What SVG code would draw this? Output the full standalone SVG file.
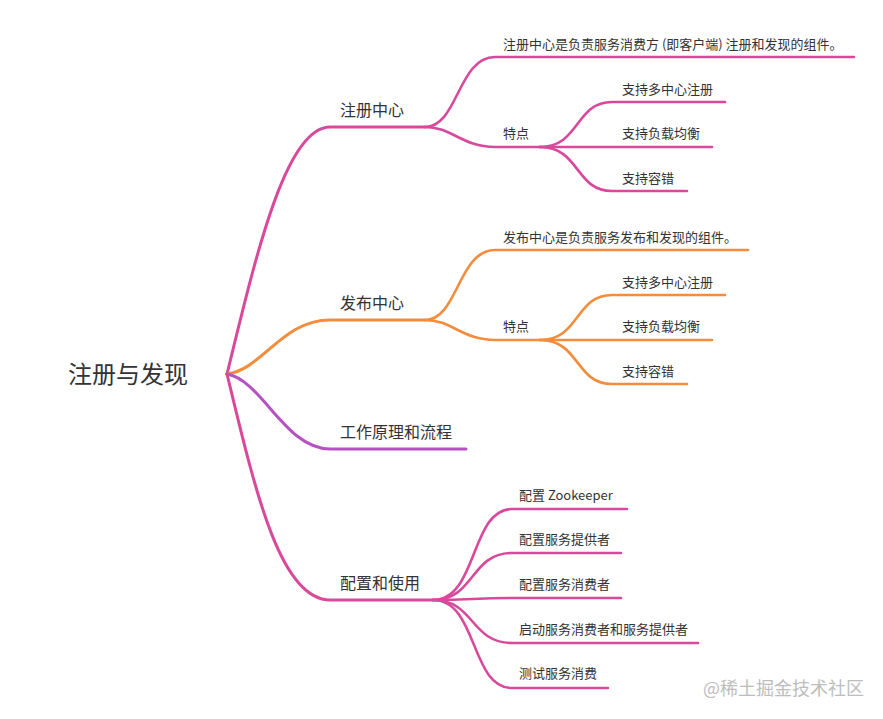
<svg xmlns="http://www.w3.org/2000/svg" width="883" height="719" viewBox="0 0 883 719">
<style>
text{font-family:"Noto Sans CJK SC","Microsoft YaHei",sans-serif;fill:#333}
.root{font-size:24px}
.l1{font-size:16px}
.l2{font-size:13px}
.wm{font-size:18px;fill:#bdbdbd}
path{fill:none;stroke-linecap:round}
.pk{stroke:#d9499b}
.or{stroke:#f38c3b}
.pu{stroke:#b552c1}
.w3{stroke-width:3}
.w2{stroke-width:2.6}
</style>
<rect width="883" height="719" fill="#fff"/>
<g id="connectors">
  <path class="pk w3" d="M227,374 C255,260 285,127 330,127 L425,127"/>
  <path class="or w3" d="M227,374 C262,370 282,320 330,320 L425,320"/>
  <path class="pu w3" d="M227,374 C262,380 285,449 330,449 L466,449"/>
  <path class="pk w3" d="M227,374 C255,490 280,600 330,600 L433,600"/>

  <path class="pk w2" d="M425,127 C458,127 458,57 495,57 L854,57"/>
  <path class="pk w2" d="M425,127 C452,127 462,147 495,147 L540,147"/>
  <path class="pk w2" d="M540,147 C580,147 575,102 612,102 L725,102"/>
  <path class="pk w2" d="M540,147 L712,147"/>
  <path class="pk w2" d="M540,147 C580,147 575,191 612,191 L687,191"/>

  <path class="or w2" d="M425,320 C458,320 458,250 495,250 L748,250"/>
  <path class="or w2" d="M425,320 C452,320 462,340 495,340 L540,340"/>
  <path class="or w2" d="M540,340 C580,340 575,295 612,295 L725,295"/>
  <path class="or w2" d="M540,340 L712,340"/>
  <path class="or w2" d="M540,340 C580,340 575,384 612,384 L687,384"/>

  <path class="pk w2" d="M433,600 C478,600 470,509 512,509 L627,509"/>
  <path class="pk w2" d="M433,600 C475,600 470,553 512,553 L621,553"/>
  <path class="pk w2" d="M433,600 C470,600 475,598 512,598 L621,598"/>
  <path class="pk w2" d="M433,600 C475,600 470,643 512,643 L698,643"/>
  <path class="pk w2" d="M433,600 C478,600 470,688 512,688 L608,688"/>
</g>
<g id="root"><text class="root" x="68" y="383">注册与发现</text></g>
<g id="n-reg"><text class="l1" x="340" y="116">注册中心</text></g>
<g id="n-reg-desc"><text class="l2" x="503" y="49">注册中心是负责服务消费方 (即客户端) 注册和发现的组件。</text></g>
<g id="n-reg-feat"><text class="l2" x="503" y="138">特点</text></g>
<g id="n-reg-f1"><text class="l2" x="622" y="94">支持多中心注册</text></g>
<g id="n-reg-f2"><text class="l2" x="622" y="138">支持负载均衡</text></g>
<g id="n-reg-f3"><text class="l2" x="622" y="183">支持容错</text></g>

<g id="n-pub"><text class="l1" x="340" y="309">发布中心</text></g>
<g id="n-pub-desc"><text class="l2" x="503" y="242">发布中心是负责服务发布和发现的组件。</text></g>
<g id="n-pub-feat"><text class="l2" x="503" y="331">特点</text></g>
<g id="n-pub-f1"><text class="l2" x="622" y="287">支持多中心注册</text></g>
<g id="n-pub-f2"><text class="l2" x="622" y="331">支持负载均衡</text></g>
<g id="n-pub-f3"><text class="l2" x="622" y="376">支持容错</text></g>

<g id="n-work"><text class="l1" x="340" y="438">工作原理和流程</text></g>

<g id="n-cfg"><text class="l1" x="340" y="589">配置和使用</text></g>
<g id="n-cfg-1"><text class="l2" x="519" y="500">配置 Zookeeper</text></g>
<g id="n-cfg-2"><text class="l2" x="519" y="544">配置服务提供者</text></g>
<g id="n-cfg-3"><text class="l2" x="519" y="589">配置服务消费者</text></g>
<g id="n-cfg-4"><text class="l2" x="519" y="634">启动服务消费者和服务提供者</text></g>
<g id="n-cfg-5"><text class="l2" x="519" y="678">测试服务消费</text></g>

<text class="wm" x="703" y="695">@稀土掘金技术社区</text>
</svg>
